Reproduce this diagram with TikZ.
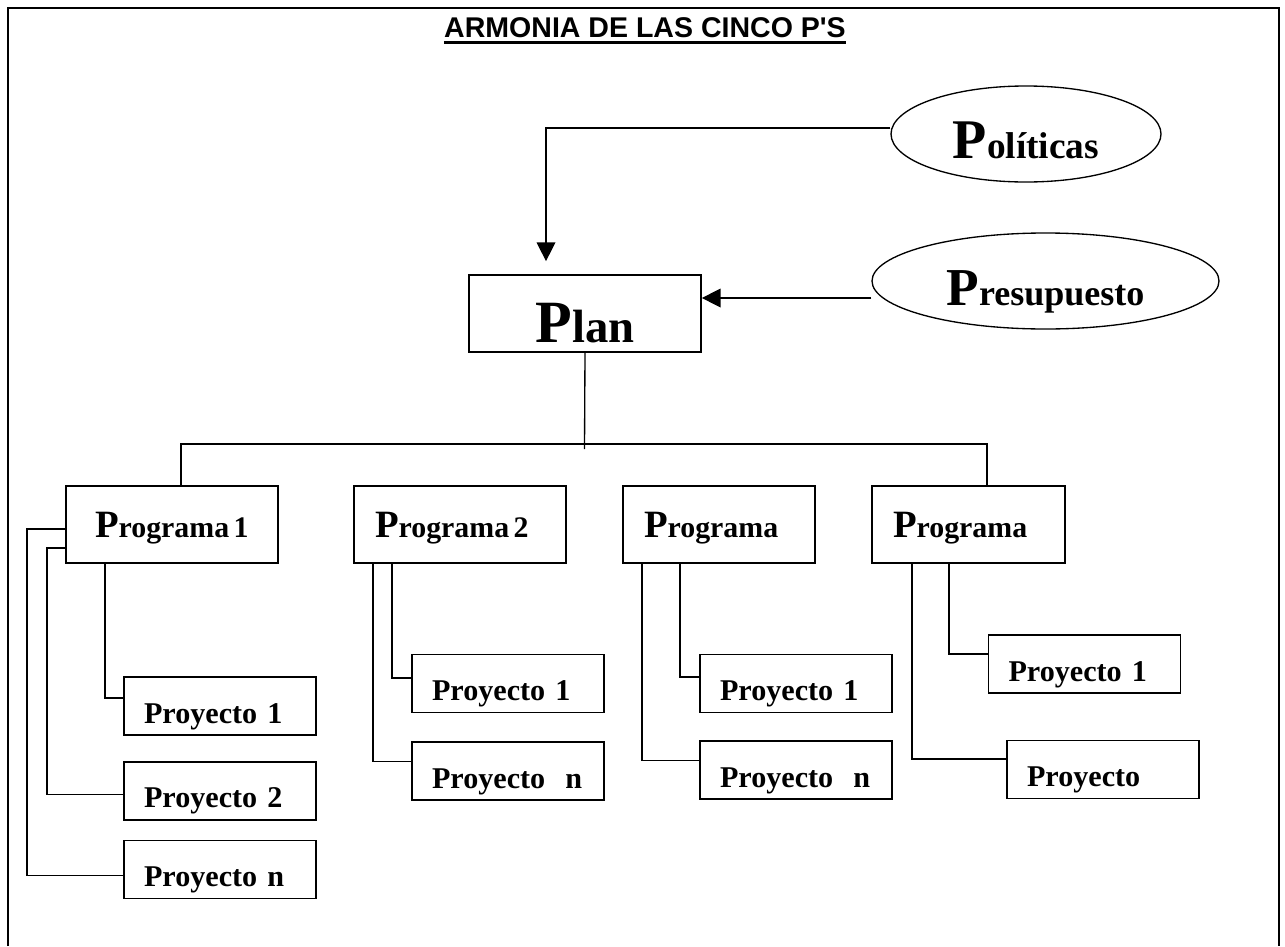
\documentclass[tikz,border=0pt]{standalone}
\usepackage{fontspec}
\setmainfont{Liberation Serif}
\newfontfamily\titlefont{Liberation Sans}
\usetikzlibrary{shapes.geometric,arrows.meta,positioning}
\newcommand{\pword}[3]{{\fontsize{#1}{#1}\selectfont P}{\fontsize{#2}{#2}\selectfont #3}}

\begin{document}
\begin{tikzpicture}[x=0.75pt, y=-0.75pt,
    box/.style={rectangle, draw, line width=1.3pt, inner sep=0pt, font=\bfseries},
    prog/.style={box, text height=38.25pt, text depth=19.5pt, inner xsep=15.75pt, align=left, text width=#1},
    proy/.style={box, text height=34.5pt, text depth=9pt, inner xsep=15pt, align=left, text width=114pt, font=\bfseries\fontsize{22.6}{22.6}\selectfont},
    oval/.style={ellipse, draw, line width=1pt, inner sep=0pt, text height=36pt, text depth=0pt, font=\bfseries},
    link/.style={line width=1pt},
    arr/.style={link, -{Triangle[length=14pt, width=14pt]}}]

    \useasboundingbox (0,0) rectangle (1285,946);
    \fill[white] (0,0) rectangle (1285,946);
    \draw[line width=1.5pt] (8,946) -- (8,8) -- (1279,8) -- (1279,946);

    \node[anchor=base, inner sep=0pt, font=\titlefont\bfseries\fontsize{21.4}{24}\selectfont] (title) at (645,37) {ARMONIA DE LAS CINCO P\textquotesingle S};
    \draw[line width=2.25pt] ([yshift=-4.1pt]title.base west) -- ([yshift=-4.1pt]title.base east);

    \node[oval, minimum width=202.5pt, minimum height=72pt] (pol) at (1026,134) {\pword{42}{28}{olíticas}};
    \node[oval, minimum width=260.25pt, minimum height=72pt] (pres) at (1045.5,281) {\pword{40}{27}{resupuesto}};
    \node[box, minimum width=174pt, text height=50.25pt, text depth=7.5pt] (plan) at (585,313.5) {\pword{45}{35}{lan}};

    \node[prog=115.5pt, inner xsep=21.75pt] (prog1) at (172,524.5) {\pword{29}{22.4}{rograma~1}};
    \node[prog=127.5pt] (prog2) at (460,524.5) {\pword{29}{22.4}{rograma~2}};
    \node[prog=112.5pt] (prog3) at (719,524.5) {\pword{29}{22.4}{rograma}};
    \node[prog=113.25pt] (prog4) at (968.5,524.5) {\pword{29}{22.4}{rograma}};

    \node[proy] (p11) at (220,706) {Proyecto~1};
    \node[proy, below=18.75pt of p11] (p12) {Proyecto~2};
    \node[proy, below=14.25pt of p12] (p1n) {Proyecto~n};
    \node[proy] (p21) at (508,683.5) {Proyecto~1};
    \node[proy, below=21pt of p21] (p2n) {Proyecto~~n};
    \node[proy] (p31) at (796,683.5) {Proyecto~1};
    \node[proy, below=20.25pt of p31] (p3n) {Proyecto~~n};
    \node[proy] (p41) at (1084.5,664) {Proyecto~1};
    \node[proy] (p4n) at (1103,769.5) {Proyecto};

    \draw[arr, shorten >=9.75pt] ([yshift=4.5pt]pol.west) -| ([xshift=-29.25pt]plan.north);
    \draw[arr] ([yshift=-12.75pt]pres.west) -- ([yshift=-12.75pt]pres.west -| plan.east);

    \coordinate (barL) at (181,444);
    \coordinate (barR) at (987,444);
    \coordinate (barM) at (584.5,449);
    \draw[link] (plan.south) -- (barM);
    \draw[link] (prog1.north -| barL) -- (barL) -- (barR) -- (prog4.north -| barR);

    \draw[link] ([xshift=-50.25pt]prog1.south) |- ([yshift=6pt]p11.west);
    \draw[link] ([yshift=-17.625pt]prog1.west) -- ++(-18,0) |- ([yshift=-3pt]p12.west);
    \draw[link] ([yshift=-3.375pt]prog1.west) -- ++(-38,0) |- ([yshift=-4.5pt]p1n.west);

    \draw[link] ([xshift=-51pt]prog2.south) |- ([yshift=4.125pt]p21.west);
    \draw[link] ([xshift=-65.25pt]prog2.south) |- ([yshift=7.5pt]p2n.west);

    \draw[link] ([xshift=-29.25pt]prog3.south) |- ([yshift=4.875pt]p31.west);
    \draw[link] ([xshift=-57.75pt]prog3.south) |- ([yshift=7.5pt]p3n.west);

    \draw[link] ([xshift=-14.625pt]prog4.south) |- ([yshift=7.5pt]p41.west);
    \draw[link] ([xshift=-42.375pt]prog4.south) |- ([yshift=7.875pt]p4n.west);

\end{tikzpicture}
\end{document}
